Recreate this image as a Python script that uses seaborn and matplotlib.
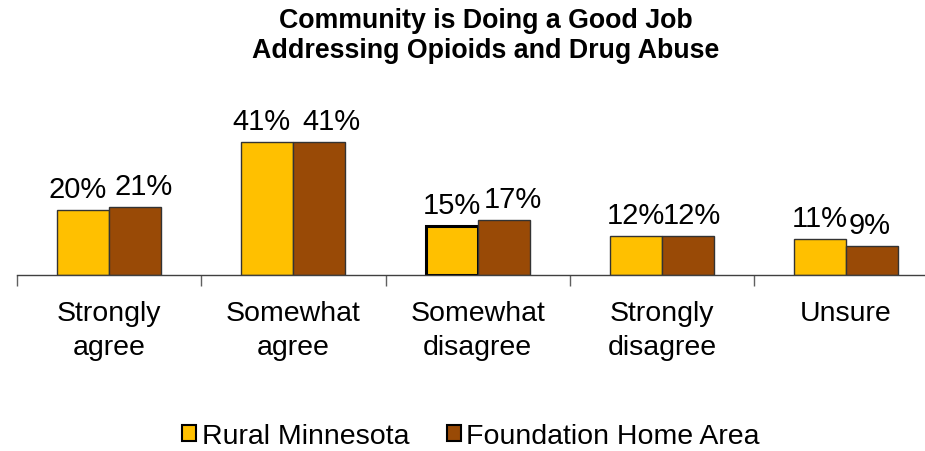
import matplotlib
matplotlib.use("Agg")
import matplotlib.pyplot as plt
from matplotlib.patches import Patch
import seaborn as sns
import pandas as pd

categories = ["Strongly\nagree", "Somewhat\nagree", "Somewhat\ndisagree", "Strongly\ndisagree", "Unsure"]
series_names = ["Rural Minnesota", "Foundation Home Area"]
rural = [20, 41, 15, 12, 11]
home = [21, 41, 17, 12, 9]
colors = ["#FFC000", "#994A06"]

# horizontal nudges (pixels) that keep neighbouring value labels apart
label_nudge = [[-5, -6, 0, 0, 0], [8, 12, 9, 4, -3]]

df = pd.DataFrame({
    "category": categories * 2,
    "series": [series_names[0]] * len(categories) + [series_names[1]] * len(categories),
    "value": rural + home,
})

sns.set_theme(style="white")
plt.rcParams["font.family"] = ["Liberation Sans", "DejaVu Sans"]
plt.rcParams["text.color"] = "black"
plt.rcParams["xtick.color"] = "black"

fig = plt.figure(figsize=(9.25, 4.52), dpi=100)
# plot area runs past the right edge of the figure, so the axis line is cut there
group_px = 184.25
ax = fig.add_axes([17 / 925, (452 - 276) / 452, len(categories) * group_px / 925, 146 / 452])

sns.barplot(data=df, x="category", y="value", hue="series", order=categories,
            hue_order=series_names, palette=colors, saturation=1, width=0.565, ax=ax,
            edgecolor="#333333", linewidth=1.0, legend=False)

ax.set_ylim(0, 45)
ax.set_xlim(-0.5, len(categories) - 0.5)

# value labels above each bar
for cont, nudges in zip(ax.containers, label_nudge):
    for bar, dx in zip(cont, nudges):
        h = bar.get_height()
        ax.annotate(f"{h:.0f}%", (bar.get_x() + bar.get_width() / 2, h),
                    xytext=(dx, 13), textcoords="offset pixels",
                    ha="center", va="baseline", fontsize=21, color="black")

# highlighted outline on the Somewhat disagree / Rural bar
ax.containers[0][2].set_linewidth(2.2)
ax.containers[0][2].set_edgecolor("black")

# axis styling: only bottom spine, ticks between groups
for s in ["top", "left", "right"]:
    ax.spines[s].set_visible(False)
ax.spines["bottom"].set_color("#404040")
ax.spines["bottom"].set_linewidth(1.0)
ax.set_yticks([])
ax.set_xticks([i - 0.5 for i in range(len(categories) + 1)])
ax.set_xticklabels([])
ax.tick_params(axis="x", which="major", direction="out", length=8, width=1, color="#606060", bottom=True)
ax.set_xticks(range(len(categories)), minor=True)
ax.set_xticklabels(categories, minor=True, fontsize=20.5, linespacing=1.4)
ax.tick_params(axis="x", which="minor", length=0, pad=18)
ax.set_xlabel("")
ax.set_ylabel("")

fig.text(486 / 925, 1 - 36 / 452, "Community is Doing a Good Job\nAddressing Opioids and Drug Abuse",
         ha="center", va="center", fontsize=19.3, fontweight="bold", linespacing=1.25)

handles = [Patch(facecolor=c, edgecolor="black", linewidth=1.5) for c in colors]
fig.legend(handles, series_names, loc="center", bbox_to_anchor=(471 / 925, 1 - 437 / 452),
           ncol=2, frameon=False, fontsize=20.5, handlelength=0.5, handleheight=0.5,
           handletextpad=0.2, columnspacing=1.3, borderpad=0, borderaxespad=0)

fig.savefig("out.png", dpi=100)
